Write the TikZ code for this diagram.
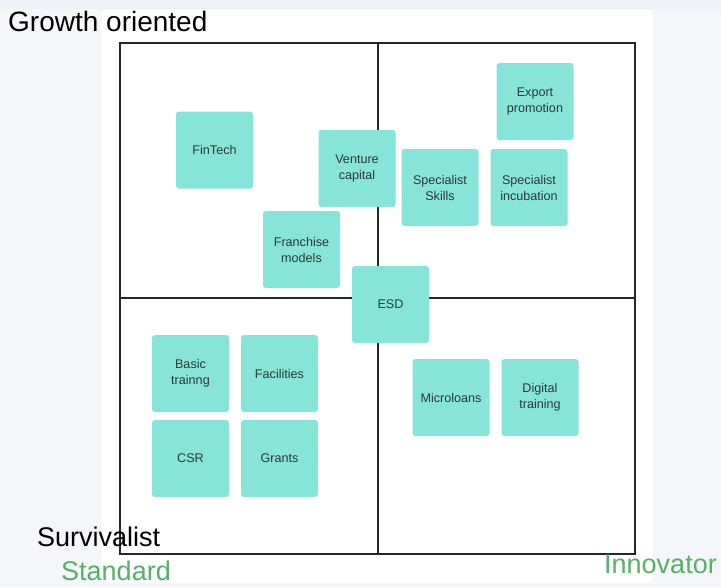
\documentclass[tikz,border=0pt]{standalone}
\usepackage{fontspec}
\setmainfont{Liberation Sans}
\usetikzlibrary{positioning}
\definecolor{notegreen}{RGB}{134,228,216}
\definecolor{notetext}{RGB}{42,58,58}
\definecolor{axisgreen}{RGB}{86,176,104}
\definecolor{pagegray}{RGB}{245,246,249}
\definecolor{stripgray}{RGB}{237,240,244}
\newcommand{\notesize}{77pt}
\tikzstyle{note} = [% a sticky note on the board
  rectangle,
  rounded corners=3pt,
  minimum width=\notesize,
  minimum height=\notesize,
  outer sep=0pt,
  align=center,
  text=notetext,
  font=\fontsize{12.6}{16}\selectfont,
  fill=notegreen
  ]
\tikzstyle{axis} = [% frame and cross of the quadrants
  line width=1.4pt,
  draw=black!85
  ]
\tikzstyle{corner} = [% big labels round the frame
  anchor=base west,
  inner sep=0pt,
  font=\fontsize{27}{30}\selectfont
  ]

\begin{document}
\begin{tikzpicture}[x=1pt, y=-1pt]

%%% Board
\fill[pagegray] (0,0) rectangle (721,587);
\useasboundingbox (0,0) rectangle (721,587);
\fill[stripgray] (0,0) rectangle (721,9);
\filldraw[white, draw=black!6, rounded corners=4pt] (101,9) rectangle (653,583);

%%% Quadrants
\coordinate (nw) at (120,43);
\coordinate (se) at (635,554);
\coordinate (top) at (378,43);
\coordinate (bottom) at (378,554);
\coordinate (left) at (120,298);
\coordinate (right) at (635,298);
\draw[axis] (nw) rectangle (se);
\draw[axis] (top) -- (bottom);
\draw[axis] (left) -- (right);

%%% Nodes
\node[note] (fintech) at (214.5,150) {FinTech};
\node[note] (venture) at (357,168.5) {Venture\\capital};
\node[note] (franchise) at (301.5,249.5) {Franchise\\models};
\node[note] (esd) at (390.5,304.5) {ESD};
\node[note] (export) at (535,101.5) {Export\\promotion};
\node[note] (skills) at (440,187.5) {Specialist\\Skills};
\node[note] (incubation) [right=12pt of skills] {Specialist\\incubation};
\node[note] (basic) at (190.5,373.5) {Basic\\trainng};
\node[note] (facilities) [right=12pt of basic] {Facilities};
\node[note] (csr) [below=8pt of basic] {CSR};
\node[note] (grants) [right=12pt of csr] {Grants};
\node[note] (microloans) at (451,397.5) {Microloans};
\node[note] (digital) [right=12pt of microloans] {Digital\\training};

%%% Labels
\node[corner, font=\fontsize{28}{30}\selectfont] (growth) at (8,31) {Growth oriented};
\node[corner] (survivalist) at (37,546) {Survivalist};
\node[corner, text=axisgreen] (standard) at (61,580) {Standard};
\node[corner, text=axisgreen] (innovator) at (604,573) {Innovator};

\end{tikzpicture}
\end{document}
